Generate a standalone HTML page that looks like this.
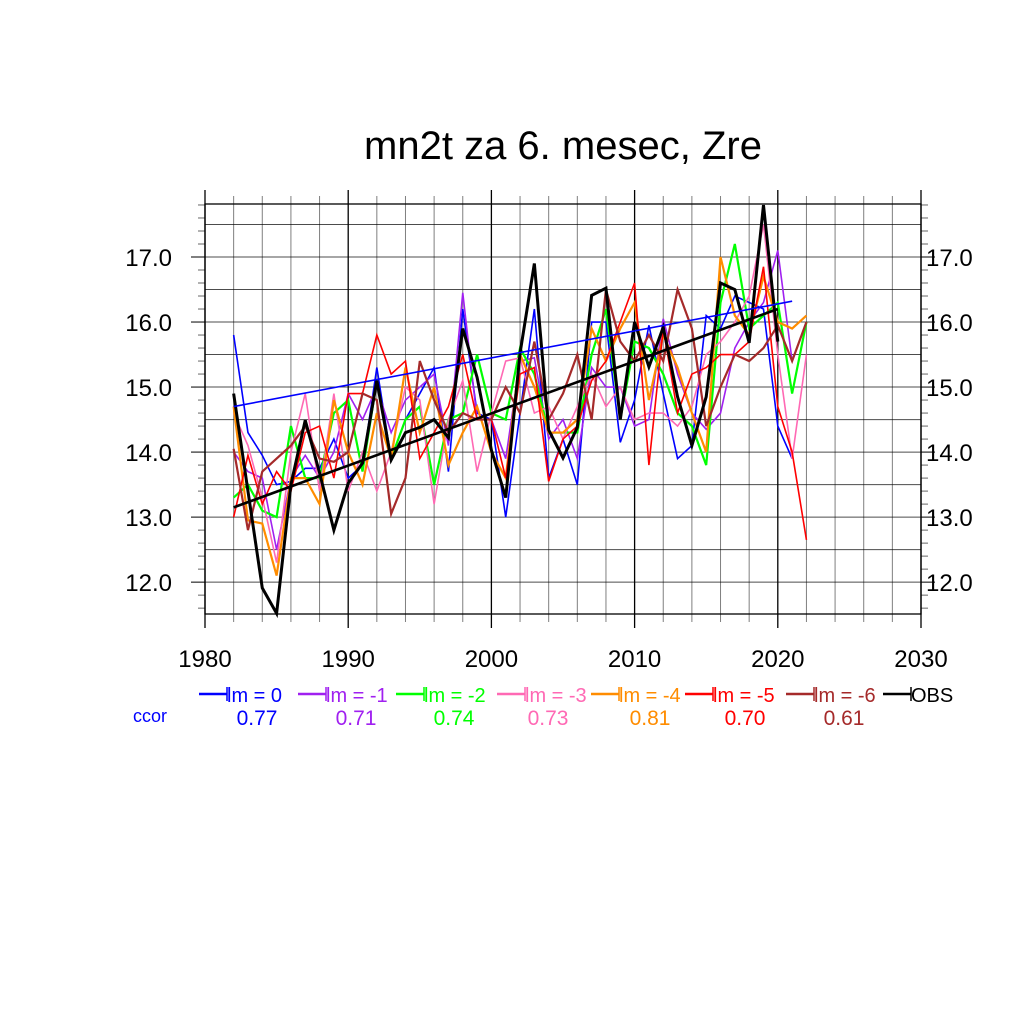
<!DOCTYPE html>
<html><head><meta charset="utf-8"><style>
body{margin:0;background:#fff;}
svg{display:block;font-family:"Liberation Sans",sans-serif;}
</style></head><body>
<svg id="chart" width="1024" height="1024" viewBox="0 0 1024 1024" xmlns="http://www.w3.org/2000/svg">
<rect width="1024" height="1024" fill="#fff"/>
<text x="563" y="159" font-size="40" text-anchor="middle">mn2t za 6. mesec, Zre</text>
<g id="grid"></g><g id="series"></g><g id="axes"></g><g id="legend"></g>
</svg>
<script>
const years = [];
for (let y = 1982; y <= 2022; y++) years.push(y);
const lm0 = [15.8,14.3,13.95,13.5,13.55,13.75,13.75,14.2,13.6,13.8,15.3,13.9,14.5,14.9,15.3,13.7,16.2,14.6,14.5,13.0,14.6,16.2,13.6,14.2,13.5,16.0,16.0,14.15,14.8,15.95,14.9,13.9,14.1,16.1,15.9,16.4,16.3,16.2,14.4,13.9];
const lm1 = [14.0,13.7,13.6,12.5,13.6,13.95,13.6,14.0,14.9,14.5,15.0,14.3,14.8,15.0,15.2,14.1,16.45,14.5,14.5,13.9,15.4,15.45,14.2,14.5,13.9,15.3,15.0,15.0,14.4,14.5,16.05,15.2,14.6,14.35,14.6,15.6,16.0,16.3,17.1,15.4,16.0];
const lm2 = [13.3,13.5,13.1,13.0,14.4,13.6,13.6,14.6,14.8,13.7,15.1,13.9,14.5,14.7,13.5,14.5,14.6,15.5,14.6,14.5,15.6,15.2,14.3,14.3,14.3,15.5,16.2,14.5,15.7,15.6,15.2,14.6,14.4,13.8,16.3,17.2,15.9,16.1,16.3,14.9,16.0];
const lm3 = [14.6,14.1,13.3,12.3,14.0,14.9,13.4,14.9,13.4,14.0,13.4,14.0,15.0,14.8,13.2,14.5,15.1,13.7,14.6,15.4,15.45,14.6,14.7,14.2,14.7,15.2,14.7,15.0,14.5,14.6,14.6,14.4,14.7,15.5,15.7,16.0,16.4,17.5,15.5,13.9,15.5];
const lm4 = [14.7,12.95,12.9,12.1,13.6,13.6,13.2,14.8,14.0,13.5,14.6,13.9,15.3,14.3,15.0,13.8,14.3,14.7,14.0,13.6,15.5,15.0,14.3,14.3,14.5,15.9,15.4,15.9,16.3,14.8,15.8,15.3,14.6,14.0,17.0,16.1,15.8,16.7,16.0,15.9,16.1];
const lm5 = [13.0,13.95,13.2,13.7,13.4,14.3,14.4,13.6,14.9,14.9,15.8,15.2,15.4,13.9,14.3,14.7,15.5,14.5,14.5,13.6,15.2,15.3,13.55,14.2,14.4,15.1,15.4,16.0,16.6,13.8,15.9,14.6,15.2,15.3,15.5,15.5,15.7,16.85,14.7,14.0,12.65];
const lm6 = [14.05,12.8,13.7,13.9,14.1,14.4,13.9,13.85,14.0,14.9,14.8,13.05,13.6,15.4,14.8,14.3,14.6,14.5,14.5,15.0,14.6,15.7,14.5,14.9,15.5,14.5,16.5,15.7,15.4,15.8,15.4,16.5,15.9,14.4,15.0,15.5,15.4,15.6,15.95,15.4,16.0];
const obs = [14.9,13.4,11.91,11.52,13.5,14.49,13.68,12.8,13.52,13.83,15.1,13.88,14.3,14.38,14.5,14.22,15.9,15.15,14.03,13.3,15.52,16.9,14.34,13.91,14.38,16.41,16.52,14.5,16.0,15.31,15.92,14.85,14.1,14.85,16.6,16.5,15.68,17.8,15.7];
const trendLm0 = [[1982,14.7],[2021,16.32]];
const trendObs = [[1982,13.15],[2020,16.2]];
const xTicks = [1980,1990,2000,2010,2020,2030];
const yTicks = [12.0,13.0,14.0,15.0,16.0,17.0];
const labels = ["lm = 0","lm = -1","lm = -2","lm = -3","lm = -4","lm = -5","lm = -6","OBS"];
const ccor = ["0.77","0.71","0.74","0.73","0.81","0.70","0.61"];

const X0=205,X1=921,Y0=204,Y1=614,XMIN=1980,XMAX=2030,YMIN=11.51,YMAX=17.815;
const xs=v=>X0+(v-XMIN)/(XMAX-XMIN)*(X1-X0);
const ys=v=>Y1-(v-YMIN)/(YMAX-YMIN)*(Y1-Y0);
const NS="http://www.w3.org/2000/svg";
function mk(parent,tag,attrs){const e=document.createElementNS(NS,tag);for(const k in attrs)e.setAttribute(k,attrs[k]);parent.appendChild(e);return e;}
const grid=document.getElementById('grid'),series=document.getElementById('series'),axes=document.getElementById('axes'),legend=document.getElementById('legend');
for(let y=1980;y<=2030;y+=2){const big=y%10===0;const ext=big?14:8;
const l=mk(grid,'line',{x1:xs(y),x2:xs(y),y1:Y0-ext,y2:Y1+ext,stroke:'#000','stroke-opacity':big?1:0.5,'stroke-width':big?1.3:1});

}
for(let v=12;v<=17.5;v+=0.5){const l=mk(grid,'line',{x1:X0,x2:X1,y1:ys(v),y2:ys(v),stroke:'#000','stroke-opacity':0.7,'stroke-width':1});

}
const colors=['#0000ff','#a020f0','#00ff00','#ff69b4','#ff8c00','#ff0000','#a52a2a','#000000'];
const data=[lm0,lm1,lm2,lm3,lm4,lm5,lm6,obs];
const names=['series-lm0','series-lm-1','series-lm-2','series-lm-3','series-lm-4','series-lm-5','series-lm-6','series-obs'];
data.forEach((arr,i)=>{const pts=arr.map((v,j)=>xs(years[j])+','+ys(v)).join(' ');
const p=mk(series,'polyline',{points:pts,fill:'none',stroke:colors[i],'stroke-width':(i===2||i===4||i===6)?2.2:(i===7?3:1.6),'stroke-linejoin':'miter'});

});
const t1=mk(series,'line',{x1:xs(trendLm0[0][0]),y1:ys(trendLm0[0][1]),x2:xs(trendLm0[1][0]),y2:ys(trendLm0[1][1]),stroke:'#0000ff','stroke-width':1.6});


const t2=mk(series,'line',{x1:xs(trendObs[0][0]),y1:ys(trendObs[0][1]),x2:xs(trendObs[1][0]),y2:ys(trendObs[1][1]),stroke:'#000','stroke-width':2.6});


const fr=mk(axes,'rect',{x:X0,y:Y0,width:X1-X0,height:Y1-Y0,fill:'none',stroke:'#000','stroke-width':1.3});


for(const t of xTicks){const e=mk(axes,'text',{x:xs(t),y:667,'font-size':24,'text-anchor':'middle'});e.textContent=t;

}
for(let k=116;k<=178;k+=2){const v=k/10;const big=k%10===0;const len=big?14:7;
[[X0,X0-len],[X1,X1+len]].forEach(([a,b])=>{const l=mk(axes,'line',{x1:a,x2:b,y1:ys(v),y2:ys(v),stroke:'#000','stroke-opacity':big?1:0.6,'stroke-width':1});

});}
for(const t of yTicks){const e=mk(axes,'text',{x:172,y:ys(t)+9,'font-size':24,'text-anchor':'end'});e.textContent=t.toFixed(1);


const e2=mk(axes,'text',{x:926,y:ys(t)+9,'font-size':24,'text-anchor':'start'});e2.textContent=t.toFixed(1);

}
const lx=[199,298,396,497,591,685,786,883];
const cx=[257,356,454,548,650,745,844];
labels.forEach((lab,i)=>{const g=mk(legend,'g',{});


mk(g,'line',{x1:lx[i],x2:lx[i]+28,y1:694,y2:694,stroke:colors[i],'stroke-width':2.5});
mk(g,'line',{x1:lx[i]+28,x2:lx[i]+28,y1:687,y2:701,stroke:colors[i],'stroke-width':1.5});
const t=mk(g,'text',{x:lx[i]+28,y:702,'font-size':20,fill:colors[i]});t.textContent=lab;});
const cc=mk(legend,'text',{x:133,y:722,'font-size':18,fill:'#0000ff'});cc.textContent='ccor';


ccor.forEach((v,i)=>{const t=mk(legend,'text',{x:cx[i],y:725,'font-size':21,fill:colors[i],'text-anchor':'middle'});t.textContent=v;

});
</script>
</body></html>
